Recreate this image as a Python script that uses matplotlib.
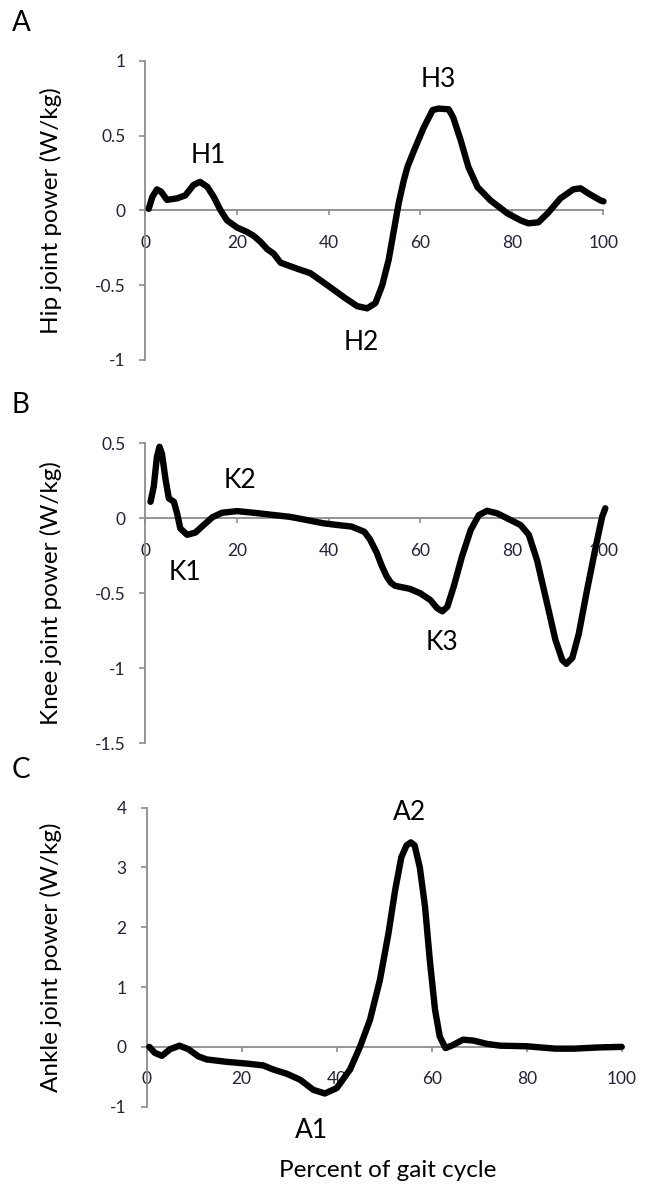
import numpy as np
import matplotlib
matplotlib.use("Agg")
from matplotlib import pyplot as plt

plt.rcParams['font.family'] = ['Lato', 'DejaVu Sans']

# hip power (W/kg) vs percent of gait cycle
hip_x = [0.7, 1.5, 2.5, 3.4, 4.7, 6.9, 8.7, 10.5, 11.9, 13.5, 14.9, 16.4, 17.8, 20, 22.2,
         23.6, 25.1, 26.6, 28, 29.5, 33.1, 36, 39.7, 43.3, 46.2, 48.4, 50.2, 51.7, 53.1, 54.4,
         55.3, 56.4, 57.2, 58.5, 60.7, 62.7, 64, 66.2, 67.2, 68.8, 70.5, 72.5, 75.3, 79,
         81.9, 83.6, 85.8, 87.8, 90.6, 93.4, 95, 96.7, 99.3, 100]
hip_y = [0.01, 0.09, 0.14, 0.125, 0.07, 0.08, 0.1, 0.17, 0.19, 0.157, 0.09, 0.0, -0.067,
         -0.115, -0.145, -0.17, -0.21, -0.26, -0.29, -0.35, -0.39, -0.42, -0.5, -0.58, -0.64,
         -0.655, -0.62, -0.5, -0.33, -0.105, 0.05, 0.2, 0.29, 0.39, 0.55, 0.67, 0.68, 0.675,
         0.62, 0.47, 0.29, 0.155, 0.067, -0.02, -0.067, -0.087, -0.08, -0.02, 0.08, 0.14,
         0.147, 0.113, 0.067, 0.06]

knee_x = [1.1, 1.8, 2.5, 3.06, 3.6, 4.4, 5.1, 6.2, 6.9, 7.6, 9.1, 10.9, 12.7, 14.6, 16.7,
          20, 23.6, 28, 31.5, 35, 38.8, 42, 45, 47.8, 49, 50.5, 51.5, 52.7, 53.6, 54.5, 57.7,
          60, 62.2, 63.7, 64.8, 65.9, 67.3, 69.1, 71, 72.8, 74.6, 76.8, 79.7, 81.9, 83.7,
          85.5, 87.7, 89.5, 91, 91.9, 93.2, 94.6, 96.4, 98.3, 99.7, 100.4]
knee_y = [0.11, 0.21, 0.41, 0.477, 0.43, 0.255, 0.133, 0.11, 0.033, -0.067, -0.11, -0.095,
          -0.045, 0.007, 0.037, 0.048, 0.037, 0.022, 0.01, -0.01, -0.033, -0.045, -0.055,
          -0.09, -0.14, -0.23, -0.31, -0.39, -0.43, -0.45, -0.47, -0.5, -0.545, -0.6, -0.62,
          -0.59, -0.455, -0.255, -0.078, 0.022, 0.05, 0.033, -0.011, -0.045, -0.11, -0.28,
          -0.57, -0.81, -0.945, -0.97, -0.93, -0.77, -0.48, -0.19, 0.01, 0.067]

ankle_x = [0.55, 1.7, 3.2, 4.9, 6.9, 8.8, 10.9, 12.6, 16.8, 21.1, 24.5, 26.7, 29.5, 32.3,
           35.1, 37.5, 40, 42.8, 44.9, 47, 49.1, 50.9, 52.3, 53.6, 54.7, 55.6, 56.4, 57.5,
           58.6, 59.6, 60.7, 61.7, 62.9, 64.2, 66.6, 68.8, 71.6, 74.4, 80, 86, 90, 95, 100]
ankle_y = [0.0, -0.1, -0.15, -0.04, 0.02, -0.04, -0.16, -0.21, -0.25, -0.28, -0.31, -0.38,
           -0.45, -0.55, -0.72, -0.78, -0.69, -0.38, 0.0, 0.45, 1.12, 1.9, 2.62, 3.17, 3.37,
           3.42, 3.37, 3.0, 2.34, 1.45, 0.62, 0.17, -0.02, 0.02, 0.12, 0.105, 0.05, 0.02,
           0.01, -0.03, -0.03, -0.01, 0.0]

xticks = [0, 20, 40, 60, 80, 100]

panels = [
    dict(letter="A", ylabel="Hip joint power (W/kg)", x=hip_x, y=hip_y,
         ylim=(-1, 1), yticks=[-1, -0.5, 0, 0.5, 1],
         labels=[("H1", 13.8, 0.365), ("H2", 47.2, -0.88), ("H3", 64, 0.877)],
         rect=[0.2252, 0.698, 0.709, 0.2511]),
    dict(letter="B", ylabel="Knee joint power (W/kg)", x=knee_x, y=knee_y,
         ylim=(-1.5, 0.5), yticks=[-1.5, -1, -0.5, 0, 0.5],
         labels=[("K1", 8.7, -0.36), ("K2", 20.6, 0.25), ("K3", 64.7, -0.83)],
         rect=[0.2252, 0.3764, 0.709, 0.2517]),
    dict(letter="C", ylabel="Ankle joint power (W/kg)", x=ankle_x, y=ankle_y,
         ylim=(-1, 4), yticks=[-1, 0, 1, 2, 3, 4],
         labels=[("A1", 34.7, -1.4), ("A2", 55.3, 3.92)],
         rect=[0.2271, 0.0716, 0.7353, 0.2508]),
]

axis_col = "#8c8c8c"
text_col = "#22223a"

fig = plt.figure(figsize=(6.46, 11.92), dpi=100)

for p in panels:
    ax = fig.add_axes(p["rect"])
    ax.plot(p["x"], p["y"], color="black", lw=4.6, solid_capstyle="round",
            solid_joinstyle="round", clip_on=False, zorder=3)
    ax.set_xlim(0, 100)
    ax.set_ylim(*p["ylim"])
    ax.set_xticks(xticks)
    ax.set_yticks(p["yticks"])
    ax.set_yticklabels([f"{v:g}" for v in p["yticks"]])
    for s in ["top", "right"]:
        ax.spines[s].set_visible(False)
    ax.spines["bottom"].set_position(("data", 0))
    for s in ["left", "bottom"]:
        ax.spines[s].set_color(axis_col)
        ax.spines[s].set_linewidth(1.3)
    ax.tick_params(axis="x", direction="out", length=3.5, width=1.2, color=axis_col,
                   pad=14, labelsize=12.5, labelcolor=text_col)
    ax.tick_params(axis="y", direction="out", length=4.5, width=1.2, color=axis_col,
                   pad=10, labelsize=12.5, labelcolor=text_col)
    ax.set_ylabel(p["ylabel"], fontsize=17.5, color="black")
    w_px = p["rect"][2] * 646
    ax.yaxis.set_label_coords(-(p["rect"][0] * 646 - 62) / w_px, 0.5)
    ax.patch.set_visible(False)
    for txt, tx, ty in p["labels"]:
        ax.text(tx, ty, txt, fontsize=19, ha="center", va="center", color="black",
                clip_on=False)
    h_px = p["rect"][3] * 1192
    ax.text(-(p["rect"][0] * 646 - 12) / w_px, 1 + 38 / h_px, p["letter"],
            transform=ax.transAxes, fontsize=20, ha="left", va="center")

ax.set_xlabel("Percent of gait cycle", fontsize=17.5)
ax.xaxis.label.set_va("center")
ax.xaxis.set_label_coords(0.508, -0.212)

fig.savefig("out.png", dpi=100)
